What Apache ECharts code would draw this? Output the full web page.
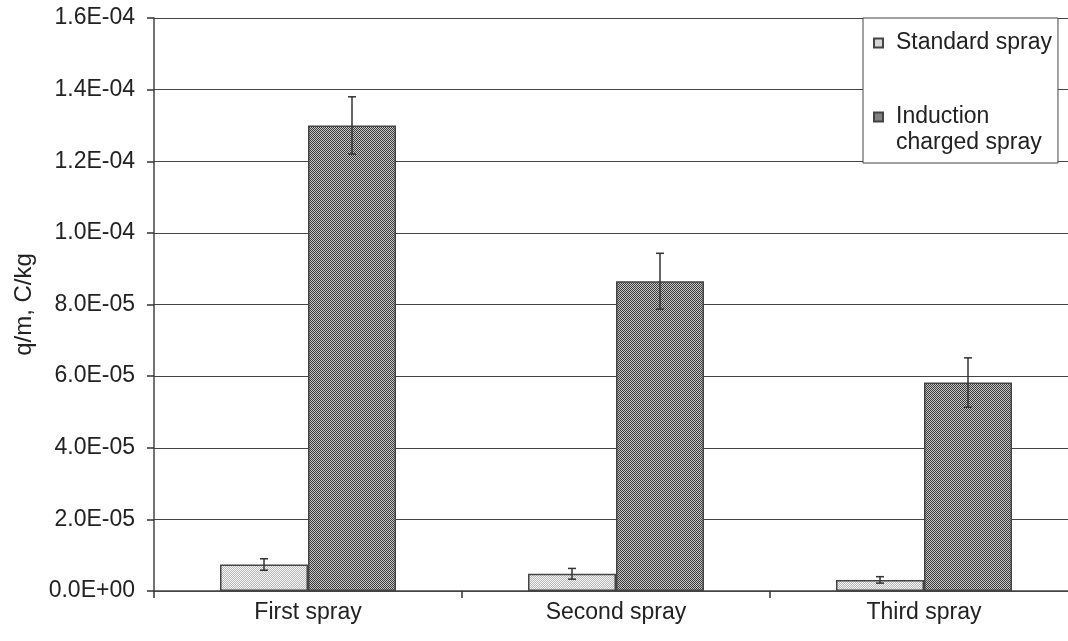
<!DOCTYPE html>
<html>
<head>
<meta charset="utf-8">
<script src="https://cdn.jsdelivr.net/npm/echarts@6/dist/echarts.min.js"></script>
<style>
html,body{margin:0;padding:0;background:#fff;overflow:hidden;}
#chart{width:1078px;height:641px;}
</style>
</head>
<body>
<div id="chart"></div>
<script>
var categories = ['First spray', 'Second spray', 'Third spray'];
var standardVals = [7.4e-6, 4.8e-6, 3.1e-6];
var standardErr = [1.6e-6, 1.5e-6, 0.9e-6];
var inductionVals = [1.30e-4, 8.65e-5, 5.82e-5];
var inductionErr = [8.0e-6, 7.8e-6, 6.9e-6];
var seriesNames = ['Standard spray', 'Induction\ncharged spray'];

// hatch patterns like the excel fills
function makePattern(bg, fg, dir){
    var c = document.createElement('canvas');
    c.width = 4; c.height = 4;
    var ctx = c.getContext('2d');
    ctx.fillStyle = bg;
    ctx.fillRect(0, 0, 4, 4);
    ctx.fillStyle = fg;
    for (var i = 0; i < 4; i++) {
        var x = dir > 0 ? (3 - i) : i;
        ctx.fillRect(x, i, 1, 1);
        ctx.fillRect((x + 2) % 4, i, 1, 1);
    }
    return c;
}
var stdPattern = makePattern('#f4f4f4', '#b8b8b8', 1);
var indPattern = makePattern('#c8c8c8', '#3a3a3a', -1);

function sciLabel(v){
    if (v === 0) return '0.0E+00';
    var s = v.toExponential(1).toUpperCase();
    var parts = s.split('E');
    var e = parseInt(parts[1], 10);
    var sign = e < 0 ? '-' : '+';
    var ea = Math.abs(e);
    return parts[0] + 'E' + sign + (ea < 10 ? '0' + ea : '' + ea);
}

var halfBar = 44;
function errSeries(vals, errs, offset){
    var d = [];
    for (var i = 0; i < vals.length; i++) d.push([i, vals[i], errs[i]]);
    return {
        type: 'custom',
        silent: true,
        z: 5,
        data: d,
        renderItem: function(params, api){
            var i = api.value(0);
            var hi = api.coord([i, api.value(1) + api.value(2)]);
            var lo = api.coord([i, api.value(1) - api.value(2)]);
            var x = hi[0] + offset;
            var cap = 4;
            var st = {stroke: '#333', lineWidth: 1.5};
            return {
                type: 'group',
                children: [
                    {type: 'line', shape: {x1: x, y1: hi[1], x2: x, y2: lo[1]}, style: st},
                    {type: 'line', shape: {x1: x - cap, y1: hi[1], x2: x + cap, y2: hi[1]}, style: st},
                    {type: 'line', shape: {x1: x - cap, y1: lo[1], x2: x + cap, y2: lo[1]}, style: st}
                ]
            };
        }
    };
}

var myChart = echarts.init(document.getElementById('chart'));
var option = {
    animation: false,
    textStyle: {fontFamily: 'Liberation Sans, Arial, sans-serif'},
    grid: {left: 154, right: 0, top: 18, bottom: 50},
    legend: {
        left: 863,
        top: 18,
        orient: 'vertical',
        itemGap: 22,
        itemWidth: 9,
        itemHeight: 9,
        icon: 'rect',
        padding: [12, 6, 7, 10],
        backgroundColor: '#fff',
        borderColor: '#444',
        borderWidth: 1,
        borderRadius: 0,
        data: seriesNames,
        formatter: function(name){
            return name === seriesNames[1] ? '\n' + name : name;
        },
        textStyle: {fontSize: 23, lineHeight: 26, color: '#222', padding: [0, 0, 0, 8]}
    },
    xAxis: {
        type: 'category',
        data: categories,
        axisLine: {lineStyle: {color: '#444', width: 1.5}},
        axisTick: {show: true, length: 7, lineStyle: {color: '#333', width: 1.5}},
        axisLabel: {fontSize: 23, color: '#222', margin: 10}
    },
    yAxis: {
        type: 'value',
        min: 0,
        max: 1.6e-4,
        interval: 2e-5,
        name: 'q/m, C/kg',
        nameLocation: 'middle',
        nameRotate: 90,
        nameGap: 118,
        nameTextStyle: {fontSize: 24, color: '#222'},
        axisLine: {show: true, lineStyle: {color: '#444', width: 1.5}},
        axisTick: {show: true, length: 7, lineStyle: {color: '#333', width: 1.5}},
        axisLabel: {fontSize: 23, color: '#222', margin: 19, formatter: sciLabel},
        splitLine: {lineStyle: {color: '#444', width: 1}}
    },
    series: [
        {
            name: seriesNames[0],
            type: 'bar',
            barWidth: 88,
            barGap: '0%',
            data: standardVals,
            itemStyle: {color: {image: stdPattern, repeat: 'repeat'}, borderColor: '#444', borderWidth: 1.5}
        },
        {
            name: seriesNames[1],
            type: 'bar',
            barWidth: 88,
            barGap: '0%',
            data: inductionVals,
            itemStyle: {color: {image: indPattern, repeat: 'repeat'}, borderColor: '#444', borderWidth: 1.5}
        },
        errSeries(standardVals, standardErr, -halfBar),
        errSeries(inductionVals, inductionErr, halfBar)
    ]
};
myChart.setOption(option);
</script>
</body>
</html>
